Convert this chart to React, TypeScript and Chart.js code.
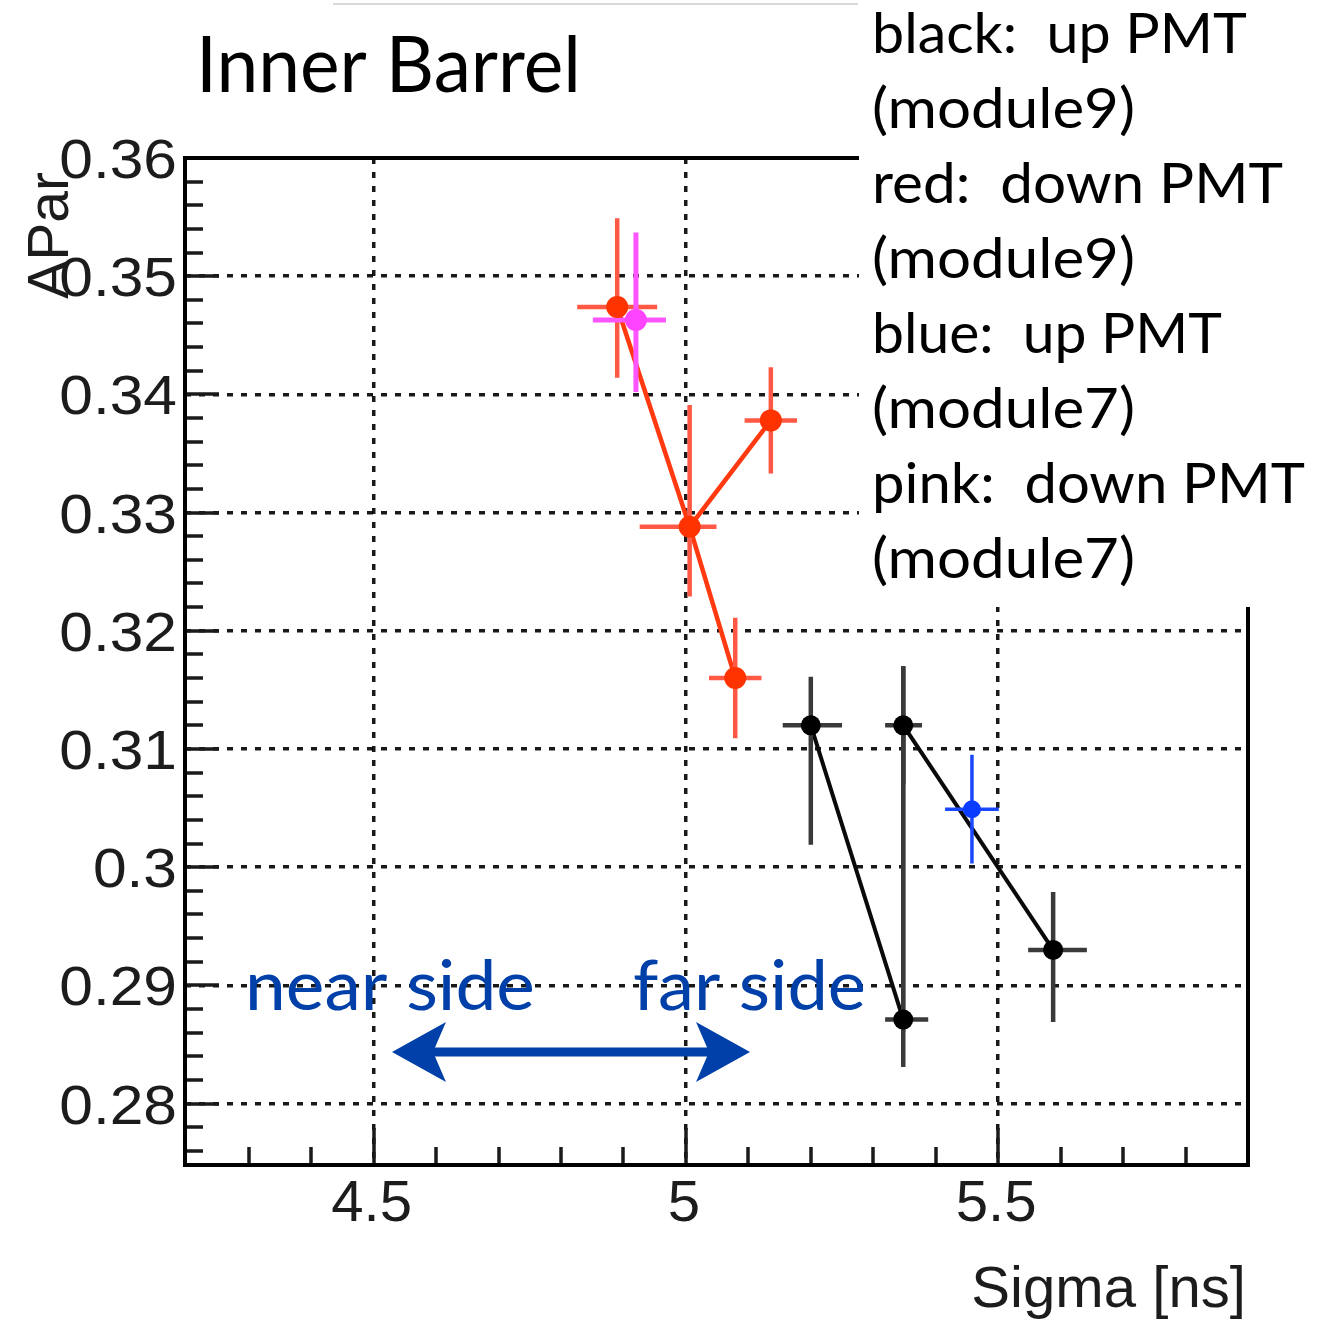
import { useEffect, useRef } from "react";
import { Chart, registerables } from "chart.js";

Chart.register(...registerables);

// ---- axis ranges & tick labels ----
const X_MIN = 4.198;
const X_MAX = 5.9;
const Y_MIN = 0.2748;
const Y_MAX = 0.36;
const xTickValues = [4.5, 5, 5.5];
const xTickLabels = ["4.5", "5", "5.5"];
const yTickValues = [0.28, 0.29, 0.3, 0.31, 0.32, 0.33, 0.34, 0.35, 0.36];
const yTickLabels = ["0.28", "0.29", "0.3", "0.31", "0.32", "0.33", "0.34", "0.35", "0.36"];

// ---- red: down PMT (module9) ----
const redX = [4.89, 5.006, 5.079, 5.136];
const redY = [0.3474, 0.3288, 0.316, 0.3378];
const redExLo = [0.064, 0.08, 0.042, 0.042];
const redExHi = [0.064, 0.043, 0.042, 0.042];
const redEyLo = [0.006, 0.0059, 0.0051, 0.0045];
const redEyHi = [0.0075, 0.0103, 0.0051, 0.0045];
const redOrder = [0, 1, 2, 1, 3];

// ---- pink: down PMT (module7) ----
const pinkX = [4.92];
const pinkY = [0.3463];
const pinkExLo = [0.069];
const pinkExHi = [0.048];
const pinkEyLo = [0.0061];
const pinkEyHi = [0.0074];
const pinkOrder = [0];

// ---- black: up PMT (module9) ----
const blackX = [5.2, 5.348, 5.348, 5.588];
const blackY = [0.312, 0.312, 0.2871, 0.293];
const blackExLo = [0.045, 0.029, 0.029, 0.04];
const blackExHi = [0.05, 0.03, 0.04, 0.054];
const blackEyLo = [0.0101, 0.005, 0.004, 0.0061];
const blackEyHi = [0.0041, 0.005, 0.0299, 0.0049];
const blackOrder = [0, 2, 1, 3];

// ---- blue: up PMT (module7) ----
const blueX = [5.458];
const blueY = [0.3049];
const blueExLo = [0.043];
const blueExHi = [0.043];
const blueEyLo = [0.0046];
const blueEyHi = [0.0046];
const blueOrder = [0];

// ---- texts ----
const titleText = "Inner Barrel";
const xAxisTitle = "Sigma [ns]";
const yAxisTitle = "APar";
const legendLines = [
  "black:  up PMT",
  "(module9)",
  "red:  down PMT",
  "(module9)",
  "blue:  up PMT",
  "(module7)",
  "pink:  down PMT",
  "(module7)",
];
const legendWidths = [375, 263, 411, 263, 350, 263, 433, 263];
const nearText = "near side";
const farText = "far side";

type Series = {
  x: number[];
  y: number[];
  exLo: number[];
  exHi: number[];
  eyLo: number[];
  eyHi: number[];
  order: number[];
  color: string;
  lineColor: string;
  lineWidth: number;
  errColor: string;
  errWidth: number;
  radius: number;
};

const series: Series[] = [
  { x: blackX, y: blackY, exLo: blackExLo, exHi: blackExHi, eyLo: blackEyLo, eyHi: blackEyHi, order: blackOrder,
    color: "#000000", lineColor: "#0a0a0a", lineWidth: 4, errColor: "#3a3a3a", errWidth: 4.5, radius: 10 },
  { x: redX, y: redY, exLo: redExLo, exHi: redExHi, eyLo: redEyLo, eyHi: redEyHi, order: redOrder,
    color: "#ff3300", lineColor: "#ff3a10", lineWidth: 4.5, errColor: "#ff5845", errWidth: 4.5, radius: 11 },
  { x: blueX, y: blueY, exLo: blueExLo, exHi: blueExHi, eyLo: blueEyLo, eyHi: blueEyHi, order: blueOrder,
    color: "#0a3cff", lineColor: "#0a3cff", lineWidth: 3, errColor: "#1a48ff", errWidth: 3.5, radius: 9 },
  { x: pinkX, y: pinkY, exLo: pinkExLo, exHi: pinkExHi, eyLo: pinkEyLo, eyHi: pinkEyHi, order: pinkOrder,
    color: "#ff44ff", lineColor: "#ff44ff", lineWidth: 3, errColor: "#ff55ff", errWidth: 5, radius: 11 },
];

const BLUE_TEXT = "rgb(0,64,168)";

function fitText(ctx: CanvasRenderingContext2D, text: string, x: number, y: number, font: string, width: number) {
  ctx.save();
  ctx.font = font;
  ctx.textAlign = "left";
  ctx.textBaseline = "alphabetic";
  const w = ctx.measureText(text).width;
  const s = w > 0 ? width / w : 1;
  ctx.translate(x, y);
  ctx.scale(s, 1);
  ctx.fillText(text, 0, 0);
  ctx.restore();
}

function scaledText(ctx: CanvasRenderingContext2D, text: string, x: number, y: number, sx: number, align: CanvasTextAlign) {
  ctx.save();
  ctx.textAlign = align;
  ctx.translate(x, y);
  ctx.scale(sx, 1);
  ctx.fillText(text, 0, 0);
  ctx.restore();
}

const errorBarPlugin = {
  id: "errorBars",
  beforeDatasetsDraw(chart: any) {
    chart.$errDrawn = false;
  },
  beforeDatasetDraw(chart: any, args: any) {
    const ds = chart.data.datasets[args.index];
    if (ds._kind !== "marker" || chart.$errDrawn) return;
    chart.$errDrawn = true;
    const ctx = chart.ctx as CanvasRenderingContext2D;
    const xs = chart.scales.x;
    const ys = chart.scales.y;
    ctx.save();
    ctx.lineCap = "butt";
    for (const s of series) {
      ctx.strokeStyle = s.errColor;
      ctx.lineWidth = s.errWidth;
      for (let i = 0; i < s.x.length; i++) {
        const px = xs.getPixelForValue(s.x[i]);
        const py = ys.getPixelForValue(s.y[i]);
        ctx.beginPath();
        ctx.moveTo(px, ys.getPixelForValue(s.y[i] - s.eyLo[i]));
        ctx.lineTo(px, ys.getPixelForValue(s.y[i] + s.eyHi[i]));
        ctx.moveTo(xs.getPixelForValue(s.x[i] - s.exLo[i]), py);
        ctx.lineTo(xs.getPixelForValue(s.x[i] + s.exHi[i]), py);
        ctx.stroke();
      }
    }
    ctx.restore();
  },
};

const decorPlugin = {
  id: "decor",
  beforeDraw(chart: any) {
    const ctx = chart.ctx as CanvasRenderingContext2D;
    ctx.save();
    ctx.fillStyle = "#ffffff";
    ctx.fillRect(0, 0, chart.width, chart.height);
    ctx.restore();
  },
  afterDraw(chart: any) {
    const ctx = chart.ctx as CanvasRenderingContext2D;
    const { left, top, right, bottom } = chart.chartArea;
    const xs = chart.scales.x;
    const ys = chart.scales.y;
    ctx.save();

    // tick marks (inside)
    ctx.strokeStyle = "#1a1a1a";
    ctx.lineWidth = 3.5;
    ctx.beginPath();
    for (let k = Math.ceil(Y_MIN / 0.002 - 1e-6); k <= Math.floor(Y_MAX / 0.002 + 1e-6); k++) {
      const py = Math.round(ys.getPixelForValue(k * 0.002));
      const len = k % 5 === 0 ? 34 : 18;
      ctx.moveTo(left, py);
      ctx.lineTo(left + len, py);
    }
    for (let k = 43; k <= 58; k++) {
      const px = Math.round(xs.getPixelForValue(k / 10));
      const len = k % 5 === 0 ? 37 : 18;
      ctx.moveTo(px, bottom);
      ctx.lineTo(px, bottom - len);
    }
    ctx.stroke();

    // frame
    ctx.strokeStyle = "#000000";
    ctx.lineWidth = 4;
    ctx.strokeRect(left, top, right - left, bottom - top);

    // tick labels
    ctx.fillStyle = "#1c1c1c";
    ctx.font = '55px "Liberation Sans", Arial, sans-serif';
    ctx.textBaseline = "alphabetic";
    yTickValues.forEach((v, i) => {
      const py = ys.getPixelForValue(v);
      scaledText(ctx, yTickLabels[i], left - 8, py + 20, 1.1, "right");
    });
    ctx.font = '57px "Liberation Sans", Arial, sans-serif';
    xTickValues.forEach((v, i) => {
      const px = xs.getPixelForValue(v);
      scaledText(ctx, xTickLabels[i], px - 2, bottom + 56, 1.02, "center");
    });

    // axis titles
    scaledText(ctx, xAxisTitle, right - 2, bottom + 142, 1.02, "right");
    ctx.save();
    ctx.font = '57px "Liberation Sans", Arial, sans-serif';
    ctx.translate(68, 172);
    ctx.rotate(-Math.PI / 2);
    ctx.textAlign = "right";
    ctx.fillText(yAxisTitle, 0, 0);
    ctx.restore();

    // legend text box (covers the frame corner)
    ctx.fillStyle = "#ffffff";
    ctx.fillRect(859, 0, chart.width - 859, 607);
    ctx.fillStyle = "#000000";
    legendLines.forEach((t, i) => {
      fitText(ctx, t, 872, 53 + i * 75, '56px "Lato", sans-serif', legendWidths[i]);
    });

    // faint line at the top
    ctx.strokeStyle = "#d9d9d9";
    ctx.lineWidth = 2;
    ctx.beginPath();
    ctx.moveTo(333, 4);
    ctx.lineTo(858, 4);
    ctx.stroke();

    // title
    ctx.fillStyle = "#000000";
    fitText(ctx, titleText, 196, 92, '78px "Lato", sans-serif', 385);

    // near / far side annotation
    ctx.fillStyle = BLUE_TEXT;
    fitText(ctx, nearText, 245, 1010, '70px "Lato", sans-serif', 290);
    fitText(ctx, farText, 633, 1010, '70px "Lato", sans-serif', 233);

    // double arrow
    const ay = 1052;
    const x1 = 392;
    const x2 = 750;
    ctx.strokeStyle = BLUE_TEXT;
    ctx.lineWidth = 9;
    ctx.beginPath();
    ctx.moveTo(x1 + 40, ay);
    ctx.lineTo(x2 - 40, ay);
    ctx.stroke();
    ctx.beginPath();
    ctx.moveTo(x1, ay);
    ctx.lineTo(x1 + 54, ay - 30);
    ctx.lineTo(x1 + 41, ay);
    ctx.lineTo(x1 + 54, ay + 30);
    ctx.closePath();
    ctx.moveTo(x2, ay);
    ctx.lineTo(x2 - 54, ay - 30);
    ctx.lineTo(x2 - 41, ay);
    ctx.lineTo(x2 - 54, ay + 30);
    ctx.closePath();
    ctx.fill();

    ctx.restore();
  },
};

export default function App() {
  const canvasRef = useRef<HTMLCanvasElement | null>(null);

  useEffect(() => {
    const canvas = canvasRef.current;
    if (!canvas) return;

    const datasets: any[] = [];
    // markers (drawn last -> on top)
    for (const s of series) {
      datasets.push({
        _kind: "marker",
        data: s.x.map((x, i) => ({ x, y: s.y[i] })),
        showLine: false,
        pointRadius: s.radius,
        pointBackgroundColor: s.color,
        pointBorderColor: s.color,
        pointBorderWidth: 0,
        order: 1,
      });
    }
    // connecting lines
    for (const s of series) {
      if (s.order.length < 2) continue;
      datasets.push({
        _kind: "line",
        data: s.order.map((i) => ({ x: s.x[i], y: s.y[i] })),
        showLine: true,
        pointRadius: 0,
        borderColor: s.lineColor,
        borderWidth: s.lineWidth,
        tension: 0,
        fill: false,
        order: 2,
      });
    }

    const gridOpts = {
      color: "rgba(0,0,0,0.9)",
      lineWidth: 3.5,
      drawTicks: false,
    };

    const chart = new Chart(canvas, {
      type: "scatter",
      data: { datasets },
      options: {
        responsive: false,
        animation: false,
        devicePixelRatio: 1,
        layout: { padding: { left: 185, top: 158, right: 88, bottom: 156 } },
        plugins: { legend: { display: false }, tooltip: { enabled: false } },
        events: [],
        scales: {
          x: {
            type: "linear",
            min: X_MIN,
            max: X_MAX,
            afterBuildTicks: (axis: any) => {
              axis.ticks = xTickValues.map((v) => ({ value: v }));
            },
            ticks: { display: false },
            grid: gridOpts,
            border: { display: false, dash: [6, 8] },
          },
          y: {
            type: "linear",
            min: Y_MIN,
            max: Y_MAX,
            afterBuildTicks: (axis: any) => {
              axis.ticks = yTickValues.map((v) => ({ value: v }));
            },
            ticks: { display: false },
            grid: gridOpts,
            border: { display: false, dash: [6, 8] },
          },
        },
      } as any,
      plugins: [errorBarPlugin, decorPlugin],
    });

    return () => chart.destroy();
  }, []);

  return (
    <div style={{ position: "absolute", left: 0, top: 0, width: 1336, height: 1321, background: "#fff" }}>
      <canvas ref={canvasRef} width={1336} height={1321} style={{ display: "block" }} />
    </div>
  );
}
